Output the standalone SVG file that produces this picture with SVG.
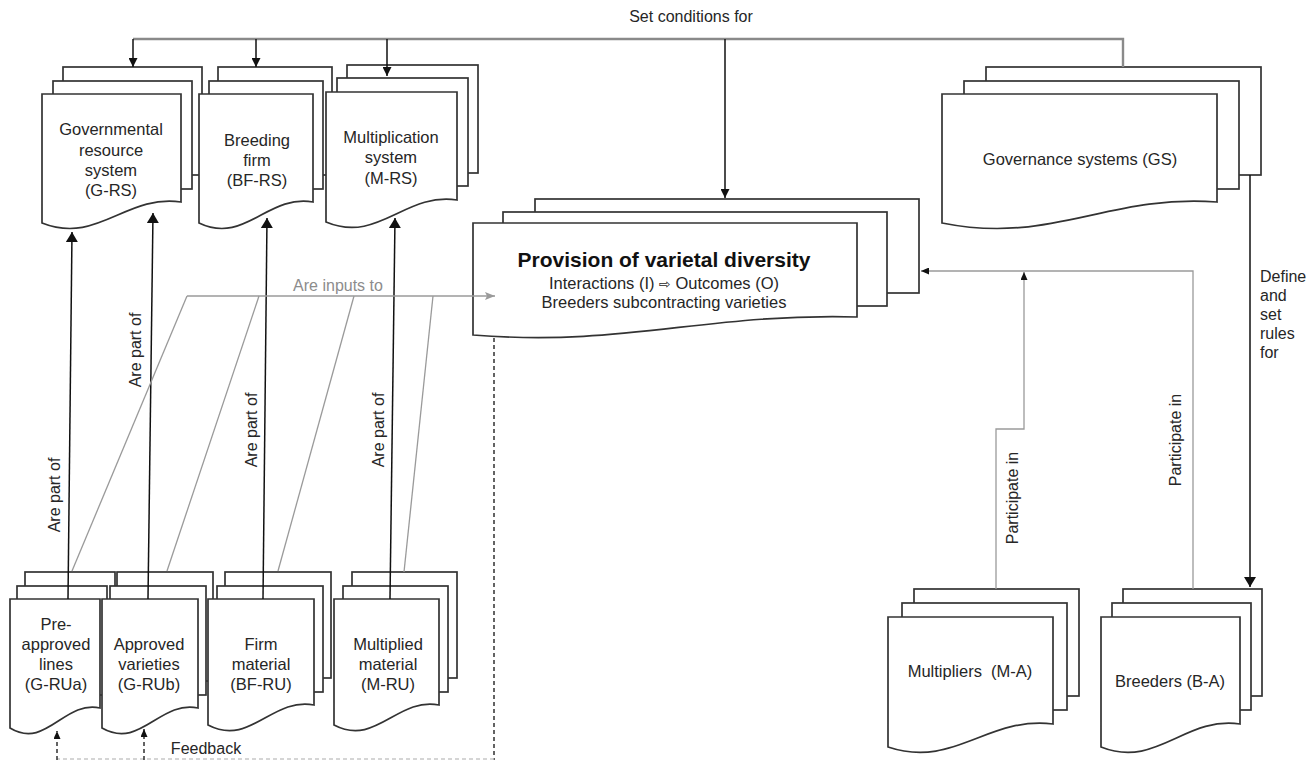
<svg xmlns="http://www.w3.org/2000/svg" width="1315" height="760" viewBox="0 0 1315 760">
<style>
.n{fill:#fff;stroke:#333;stroke-width:1.7}
.t{font-family:"Liberation Sans",Arial,sans-serif;font-size:16.5px;fill:#262626;text-anchor:middle}
.l{font-family:"Liberation Sans",Arial,sans-serif;font-size:16px;fill:#262626;text-anchor:middle}
.b{font-family:"Liberation Sans",Arial,sans-serif;font-size:21px;font-weight:bold;fill:#111;text-anchor:middle}
.k{fill:none;stroke:#111;stroke-width:1.5}
.g{fill:none;stroke:#9a9a9a;stroke-width:1.3}
.d{fill:none;stroke:#222;stroke-width:1.4;stroke-dasharray:4 3}
</style>
<defs>
<marker id="big" viewBox="0 0 10 12" refX="10" refY="6" markerWidth="10" markerHeight="12" markerUnits="userSpaceOnUse" orient="auto"><path d="M0,0 L10,6 L0,12 z" fill="#111"/></marker>
<marker id="med" viewBox="0 0 9 9" refX="9" refY="4.5" markerWidth="9" markerHeight="9" markerUnits="userSpaceOnUse" orient="auto"><path d="M0,0 L9,4.5 L0,9 z" fill="#111"/></marker>
<marker id="sm" viewBox="0 0 8 7" refX="8" refY="3.5" markerWidth="8" markerHeight="7" markerUnits="userSpaceOnUse" orient="auto"><path d="M0,0 L8,3.5 L0,7 z" fill="#111"/></marker>
<marker id="gr" viewBox="0 0 10 8" refX="10" refY="4" markerWidth="10" markerHeight="8" markerUnits="userSpaceOnUse" orient="auto"><path d="M0,0 L10,4 L0,8 L2,4 z" fill="#9a9a9a"/></marker>
</defs>

<g id="G-RS">
<rect class="n" x="63" y="67" width="139" height="108"/>
<rect class="n" x="53" y="81" width="139" height="108"/>
<path class="n" d="M42,94 H181 V202 C125.4,194 97.6,245 42,223 Z"/>
<text class="t" x="111" y="135">Governmental</text>
<text class="t" x="111" y="156">resource</text>
<text class="t" x="111" y="176">system</text>
<text class="t" x="111" y="196">(G-RS)</text>
</g>
<g id="BF-RS">
<rect class="n" x="218" y="67" width="114" height="108"/>
<rect class="n" x="209" y="81" width="114" height="108"/>
<path class="n" d="M199,94 H313 V202 C267.4,194 244.6,245 199,223 Z"/>
<text class="t" x="257" y="146">Breeding</text>
<text class="t" x="257" y="166">firm</text>
<text class="t" x="257" y="186">(BF-RS)</text>
</g>
<g id="M-RS">
<rect class="n" x="347" y="65" width="131" height="108"/>
<rect class="n" x="337" y="78" width="131" height="108"/>
<path class="n" d="M326,92 H457 V200 C404.6,192 378.4,244 326,222 Z"/>
<text class="t" x="391" y="143">Multiplication</text>
<text class="t" x="391" y="163">system</text>
<text class="t" x="391" y="184">(M-RS)</text>
</g>
<g id="GS">
<rect class="n" x="986" y="67" width="275" height="108"/>
<rect class="n" x="964" y="81" width="275" height="108"/>
<path class="n" d="M942,94 H1217 V202 C1107,194 1052,245 942,223 Z"/>
<text class="t" x="1080" y="165">Governance systems (GS)</text>
</g>
<g id="Provision">
<rect class="n" x="535" y="199" width="384" height="94"/>
<rect class="n" x="503" y="212" width="384" height="94"/>
<path class="n" d="M473,223 H857 V317 C703.4,313 626.6,347 473,335 Z"/>
<text class="b" x="664" y="267">Provision of varietal diversity</text>
<text class="t" x="664" y="289">Interactions (I) <tspan font-family="DejaVu Sans" font-size="14">⇨</tspan> Outcomes (O)</text>
<text class="t" x="664" y="308">Breeders subcontracting varieties</text>
</g>
<g id="G-RUa">
<rect class="n" x="25" y="572" width="90" height="109"/>
<rect class="n" x="17" y="586" width="90" height="109"/>
<path class="n" d="M10,599 H100 V708 C64,700 46,750 10,728 Z"/>
<text class="t" x="56" y="630">Pre-</text>
<text class="t" x="56" y="650">approved</text>
<text class="t" x="56" y="670">lines</text>
<text class="t" x="56" y="690">(G-RUa)</text>
</g>
<g id="G-RUb">
<rect class="n" x="117" y="572" width="96" height="109"/>
<rect class="n" x="110" y="586" width="96" height="109"/>
<path class="n" d="M102,599 H198 V708 C159.6,700 140.4,750 102,728 Z"/>
<text class="t" x="149" y="650">Approved</text>
<text class="t" x="149" y="670">varieties</text>
<text class="t" x="149" y="690">(G-RUb)</text>
</g>
<g id="BF-RU">
<rect class="n" x="225" y="572" width="106" height="106"/>
<rect class="n" x="217" y="586" width="106" height="106"/>
<path class="n" d="M208,599 H314 V705 C271.6,697 250.4,747 208,725 Z"/>
<text class="t" x="261" y="650">Firm</text>
<text class="t" x="261" y="670">material</text>
<text class="t" x="261" y="690">(BF-RU)</text>
</g>
<g id="M-RU">
<rect class="n" x="352" y="572" width="105" height="106"/>
<rect class="n" x="343" y="586" width="105" height="106"/>
<path class="n" d="M334,599 H439 V705 C397,697 376,747 334,725 Z"/>
<text class="t" x="388" y="650">Multiplied</text>
<text class="t" x="388" y="670">material</text>
<text class="t" x="388" y="690">(M-RU)</text>
</g>
<g id="M-A">
<rect class="n" x="914" y="589" width="165" height="107"/>
<rect class="n" x="902" y="603" width="165" height="107"/>
<path class="n" d="M888,617 H1053 V724 C987,716 954,769 888,747 Z"/>
<text class="t" x="970" y="677" xml:space="preserve">Multipliers  (M-A)</text>
</g>
<g id="B-A">
<rect class="n" x="1123" y="589" width="139" height="107"/>
<rect class="n" x="1112" y="603" width="139" height="107"/>
<path class="n" d="M1101,617 H1240 V724 C1184.4,716 1156.6,769 1101,747 Z"/>
<text class="t" x="1170" y="687">Breeders (B-A)</text>
</g>

<g id="connectors">
<path d="M1123,67 V39 H133" fill="none" stroke="#8a8a8a" stroke-width="2.4"/>
<path d="M133,39 V67" class="k" stroke-width="1.3" marker-end="url(#med)"/>
<path d="M256,39 V67" class="k" stroke-width="1.3" marker-end="url(#med)"/>
<path d="M387,39 V76" class="k" stroke-width="1.3" marker-end="url(#med)"/>
<path d="M725,39 V198" class="k" stroke-width="1.3" marker-end="url(#med)"/>
<text class="l" x="691" y="22">Set conditions for</text>
<path class="k" d="M68,599 L72,232" marker-end="url(#big)"/>
<path class="k" d="M148,599 L153,213" marker-end="url(#big)"/>
<path class="k" d="M263,599 L267,218" marker-end="url(#big)"/>
<path class="k" d="M390,599 L395,218" marker-end="url(#big)"/>
<text class="l" transform="translate(60,495) rotate(-90)">Are part of</text>
<text class="l" transform="translate(141,350) rotate(-90)">Are part of</text>
<text class="l" transform="translate(257,430) rotate(-90)">Are part of</text>
<text class="l" transform="translate(384,430) rotate(-90)">Are part of</text>
<path class="g" d="M187,296 H495" marker-end="url(#gr)"/>
<path class="g" d="M72,571 L187,296"/>
<path class="g" d="M167,571 L259,296"/>
<path class="g" d="M278,571 L354,296"/>
<path class="g" d="M404,572 L433,296"/>
<text class="l" x="338" y="291" style="fill:#8c8c8c">Are inputs to</text>
<path class="g" d="M996,589 V429 H1024 V272" marker-end="url(#sm)"/>
<path class="g" d="M1193,589 V271 H921" marker-end="url(#sm)"/>
<text class="l" transform="translate(1018,498) rotate(-90)">Participate in</text>
<text class="l" transform="translate(1181,440) rotate(-90)">Participate in</text>
<path class="k" d="M1250,175 V587" stroke-width="1.4" marker-end="url(#big)"/>
<g class="l" style="text-anchor:start">
<text x="1260" y="282">Define</text>
<text x="1260" y="301">and</text>
<text x="1260" y="320">set</text>
<text x="1260" y="339">rules</text>
<text x="1260" y="358">for</text>
</g>
<path class="d" d="M494,338 V760"/>
<path class="d" d="M494,759 H57" style="stroke:#c8c8c8"/>
<path class="d" d="M57,760 V731" marker-end="url(#sm)"/>
<path class="d" d="M144,760 V729" marker-end="url(#sm)"/>
<text class="l" x="206" y="754">Feedback</text>
</g>
</svg>
